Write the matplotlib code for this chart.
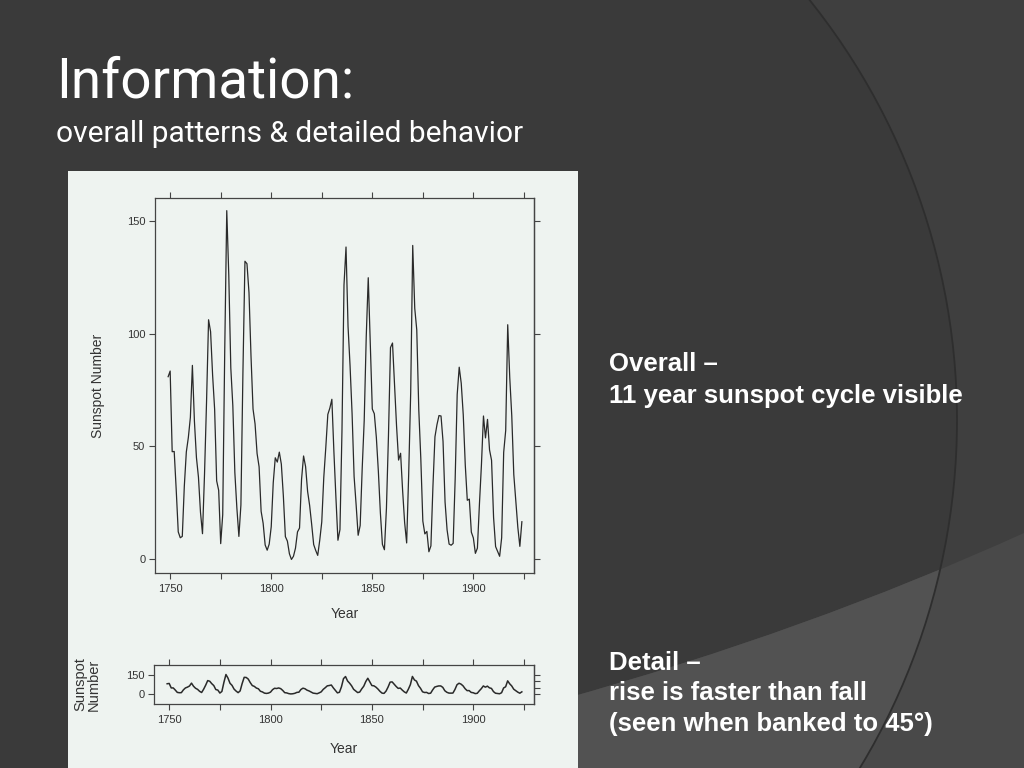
import numpy as np
import matplotlib
matplotlib.use("Agg")
import matplotlib.pyplot as plt
from matplotlib.patches import Circle, Rectangle, PathPatch
from matplotlib.path import Path
from matplotlib.ticker import FixedLocator, NullFormatter

# -----------------------
# Data: yearly sunspot numbers 1749-1924
# -----------------------
years = np.arange(1749, 1925)
sunspots = [
    80.9, 83.4, 47.7, 47.8, 30.7, 12.2, 9.6, 10.2, 32.4, 47.6,
    54.0, 62.9, 85.9, 61.2, 45.1, 36.4, 20.9, 11.4, 37.8, 69.8,
    106.1, 100.8, 81.6, 66.5, 34.8, 30.6, 7.0, 19.8, 92.5, 154.4,
    125.9, 84.8, 68.1, 38.5, 22.8, 10.2, 24.1, 82.9, 132.0, 130.9,
    118.1, 89.9, 66.6, 60.0, 46.9, 41.0, 21.3, 16.0, 6.4, 4.1,
    6.8, 14.5, 34.0, 45.0, 43.1, 47.5, 42.2, 28.1, 10.1, 8.1,
    2.5, 0.0, 1.4, 5.0, 12.2, 13.9, 35.4, 45.8, 41.1, 30.1,
    23.9, 15.6, 6.6, 4.0, 1.8, 8.5, 16.6, 36.3, 49.6, 64.2,
    67.0, 70.9, 47.8, 27.5, 8.5, 13.2, 56.9, 121.5, 138.3, 103.2,
    85.7, 64.6, 36.7, 24.2, 10.7, 15.0, 40.1, 61.5, 98.5, 124.7,
    96.3, 66.6, 64.5, 54.1, 39.0, 20.6, 6.7, 4.3, 22.7, 54.8,
    93.8, 95.8, 77.2, 59.1, 44.0, 47.0, 30.5, 16.3, 7.3, 37.6,
    74.0, 139.0, 111.2, 101.6, 66.2, 44.7, 17.0, 11.3, 12.4, 3.4,
    6.0, 32.3, 54.3, 59.7, 63.7, 63.5, 52.2, 25.4, 13.1, 6.8,
    6.3, 7.1, 35.6, 73.0, 85.1, 78.0, 64.0, 41.8, 26.2, 26.7,
    12.1, 9.5, 2.7, 5.0, 24.4, 42.0, 63.5, 53.8, 62.0, 48.5,
    43.9, 18.6, 5.7, 3.6, 1.4, 9.6, 47.4, 57.1, 103.9, 80.6,
    63.6, 37.6, 26.1, 14.2, 5.8, 16.7,
]

year_labels = [1750, 1800, 1850, 1900]
year_minor = [1775, 1825, 1875, 1925]
main_yticks = [0, 50, 100, 150]
small_yticks = [0, 150]

title = "Information:"
subtitle = "overall patterns & detailed behavior"
overall_lines = ["Overall \u2013", "11 year sunspot cycle visible"]
detail_lines = ["Detail \u2013", "rise is faster than fall", "(seen when banked to 45\u00b0)"]

W, H = 1024, 768
fig = plt.figure(figsize=(W / 100, H / 100), dpi=100)
fig.patch.set_facecolor("#3f3f3f")

# -----------------------
# Slide background (pixel coordinates)
# -----------------------
bg = fig.add_axes([0, 0, 1, 1], zorder=0)
bg.set_xlim(0, W)
bg.set_ylim(H, 0)
bg.axis("off")

circ = Circle((285, 420), 672, facecolor="#3a3a3a", edgecolor="none")
bg.add_patch(circ)

band_path = Path(
    [(560, 700), (808, 631), (1024, 533), (1024, 768), (560, 768), (560, 700)],
    [Path.MOVETO, Path.CURVE3, Path.CURVE3, Path.LINETO, Path.LINETO, Path.CLOSEPOLY],
)
bg.add_patch(PathPatch(band_path, facecolor="#494949", edgecolor="none"))
inner_band = PathPatch(band_path, facecolor="#525252", edgecolor="none")
bg.add_patch(inner_band)
inner_band.set_clip_path(circ)
bg.add_patch(Circle((285, 420), 672, fill=False, edgecolor="#2e2e2e", lw=1.3))

# scanned figure panel
bg.add_patch(Rectangle((68, 171), 510, 600, facecolor="#eef3f0", edgecolor="none"))

font_title = ["Roboto", "DejaVu Sans"]
bg.text(56, 97, title, color="white", fontsize=39.5, family=font_title, va="baseline")
bg.text(56, 142, subtitle, color="white", fontsize=21.5, family=font_title, va="baseline")

side_font = ["Liberation Sans", "DejaVu Sans"]
for i, line in enumerate(overall_lines):
    bg.text(609, 371 + 32 * i, line, color="white", fontsize=18.5, weight="bold",
            family=side_font, va="baseline")
for i, line in enumerate(detail_lines):
    bg.text(609, 670 + 30.5 * i, line, color="white", fontsize=18.5, weight="bold",
            family=side_font, va="baseline")

# -----------------------
# Plot panels
# -----------------------
ink = "#333333"
plot_font = ["Liberation Sans", "DejaVu Sans"]


def style_axes(ax, yticks_left, yticks_right):
    ax.set_facecolor("none")
    for s in ax.spines.values():
        s.set_color("#444444")
        s.set_linewidth(0.9)
    ax.xaxis.set_major_locator(FixedLocator(year_labels))
    ax.xaxis.set_minor_locator(FixedLocator(year_minor))
    ax.xaxis.set_minor_formatter(NullFormatter())
    ax.tick_params(axis="x", which="both", direction="out", length=4, width=0.8,
                   color="#444444", top=True, labelsize=8, labelcolor=ink, pad=4)
    ax.set_yticks(yticks_left)
    ax.tick_params(axis="y", which="both", direction="out", length=4, width=0.8,
                   color="#444444", labelsize=8, labelcolor=ink, pad=3)
    ax.set_xlim(1742.5, 1930)
    for lab in ax.get_xticklabels() + ax.get_yticklabels():
        lab.set_family(plot_font)
    # right side ticks without labels
    rax = ax.secondary_yaxis("right")
    rax.set_yticks(yticks_right)
    rax.tick_params(direction="out", length=4, width=0.8, color="#444444", labelright=False)
    rax.spines["right"].set_color("#444444")
    rax.spines["right"].set_linewidth(0.9)


ax1 = fig.add_axes([155 / W, 1 - 573 / H, 379 / W, 375 / H], zorder=2)
ax1.plot(years, sunspots, color="#2a2a2a", lw=0.9)
ax1.set_ylim(-6, 160)
style_axes(ax1, main_yticks, main_yticks)
ax1.set_xlabel("Year", fontsize=10, color=ink, family=plot_font, labelpad=9)
ax1.set_ylabel("Sunspot Number", fontsize=10, color=ink, family=plot_font, labelpad=16)

ax2 = fig.add_axes([154 / W, 1 - 704 / H, 380 / W, 39 / H], zorder=2)
ax2.plot(years, sunspots, color="#2a2a2a", lw=1.1)
ax2.set_ylim(-80, 230)
style_axes(ax2, small_yticks, main_yticks)
ax2.set_xlabel("Year", fontsize=10, color=ink, family=plot_font, labelpad=12)
ax2.set_ylabel("Sunspot\nNumber", fontsize=10.5, color=ink, family=plot_font,
               labelpad=18, linespacing=0.95)

fig.savefig("out.png", dpi=100, facecolor=fig.get_facecolor())
